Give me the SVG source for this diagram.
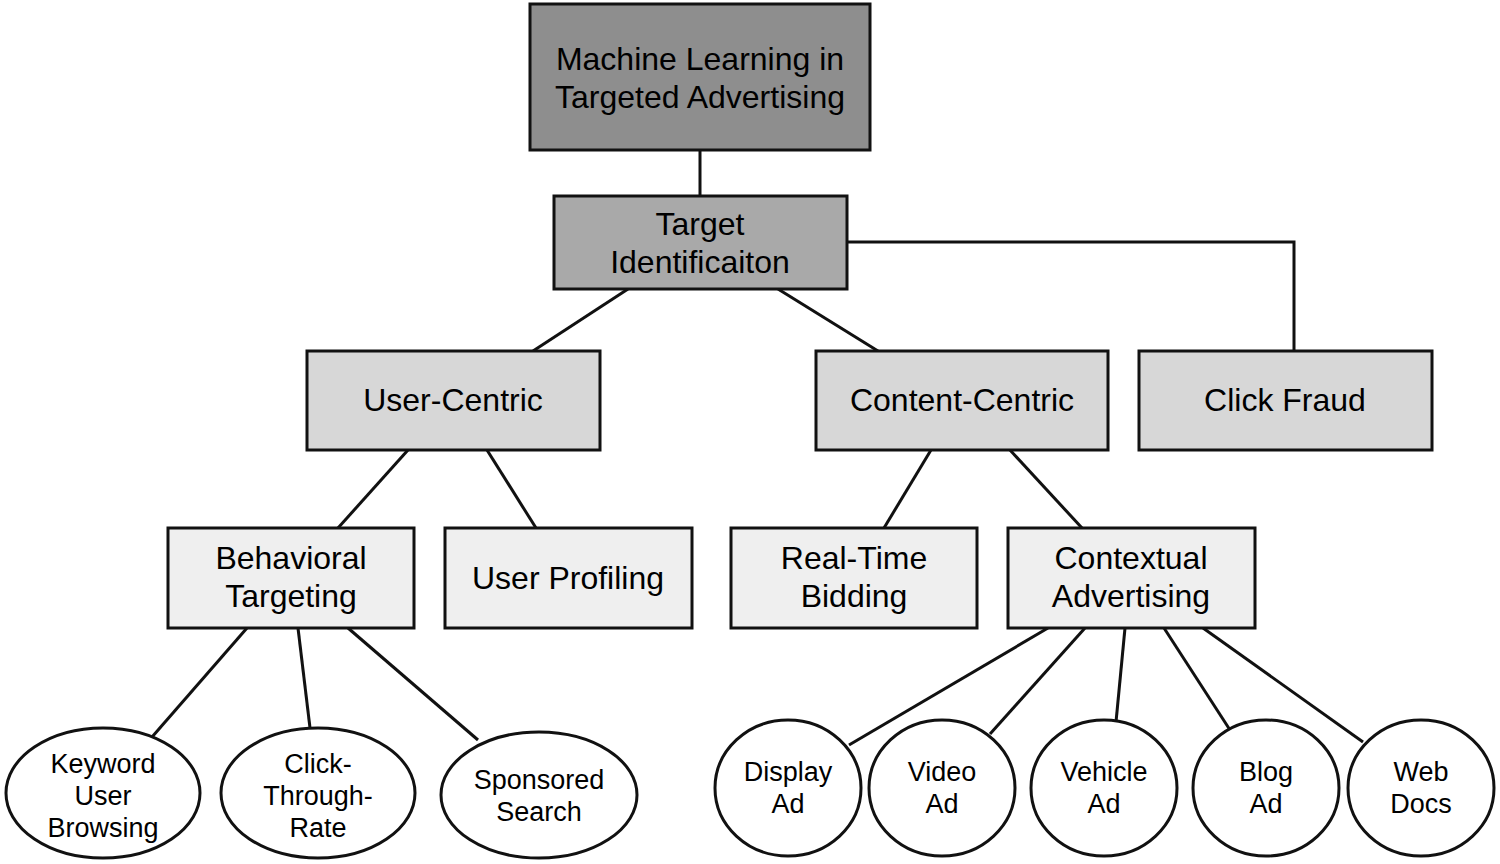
<svg xmlns="http://www.w3.org/2000/svg" width="1500" height="864" viewBox="0 0 1500 864">
<style>
.b{stroke:#111;stroke-width:3}
.l0{fill:#8e8e8e}.l1{fill:#a9a9a9}.l2{fill:#d7d7d7}.l3{fill:#efefef}.e{fill:#fff}
text{font-family:"Liberation Sans",Arial,sans-serif;fill:#000;text-anchor:middle}
.t{font-size:32px}.s{font-size:27px}
#connectors line,#connectors polyline{stroke:#111;stroke-width:3;fill:none}
</style>
<rect width="1500" height="864" fill="#fff"/>
<g id="connectors">
<line x1="700" y1="150" x2="700" y2="196"/>
<line x1="628" y1="289" x2="533" y2="351"/>
<line x1="778" y1="289" x2="878" y2="351"/>
<polyline points="847,242 1294,242 1294,351"/>
<line x1="408" y1="450" x2="338" y2="528"/>
<line x1="487" y1="450" x2="536" y2="528"/>
<line x1="931" y1="450" x2="884" y2="528"/>
<line x1="1010" y1="450" x2="1082" y2="528"/>
<line x1="247" y1="628" x2="152" y2="737"/>
<line x1="298" y1="628" x2="310" y2="728"/>
<line x1="348" y1="628" x2="478" y2="740"/>
<line x1="1048" y1="628" x2="849" y2="745"/>
<line x1="1085" y1="628" x2="990" y2="734"/>
<line x1="1125" y1="628" x2="1116" y2="722"/>
<line x1="1164" y1="628" x2="1230" y2="730"/>
<line x1="1203" y1="628" x2="1363" y2="742"/>
</g>
<g id="root"><rect class="b l0" x="530" y="4" width="340" height="146"/><text class="t" x="700" y="70">Machine Learning in</text><text class="t" x="700" y="108">Targeted Advertising</text></g>
<g id="target-identification"><rect class="b l1" x="554" y="196" width="293" height="93"/><text class="t" x="700" y="235">Target</text><text class="t" x="700" y="273">Identificaiton</text></g>
<g id="user-centric"><rect class="b l2" x="307" y="351" width="293" height="99"/><text class="t" x="453" y="411">User-Centric</text></g>
<g id="content-centric"><rect class="b l2" x="816" y="351" width="292" height="99"/><text class="t" x="962" y="411">Content-Centric</text></g>
<g id="click-fraud"><rect class="b l2" x="1139" y="351" width="293" height="99"/><text class="t" x="1285" y="411">Click Fraud</text></g>
<g id="behavioral-targeting"><rect class="b l3" x="168" y="528" width="246" height="100"/><text class="t" x="291" y="569">Behavioral</text><text class="t" x="291" y="607">Targeting</text></g>
<g id="user-profiling"><rect class="b l3" x="445" y="528" width="247" height="100"/><text class="t" x="568" y="589">User Profiling</text></g>
<g id="real-time-bidding"><rect class="b l3" x="731" y="528" width="246" height="100"/><text class="t" x="854" y="569">Real-Time</text><text class="t" x="854" y="607">Bidding</text></g>
<g id="contextual-advertising"><rect class="b l3" x="1008" y="528" width="247" height="100"/><text class="t" x="1131" y="569">Contextual</text><text class="t" x="1131" y="607">Advertising</text></g>
<g id="keyword-user-browsing"><ellipse class="b e" cx="103" cy="793" rx="97" ry="65"/><text class="s" x="103" y="773">Keyword</text><text class="s" x="103" y="805">User</text><text class="s" x="103" y="837">Browsing</text></g>
<g id="click-through-rate"><ellipse class="b e" cx="318" cy="793" rx="97" ry="65"/><text class="s" x="318" y="773">Click-</text><text class="s" x="318" y="805">Through-</text><text class="s" x="318" y="837">Rate</text></g>
<g id="sponsored-search"><ellipse class="b e" cx="539" cy="795" rx="98" ry="63"/><text class="s" x="539" y="789">Sponsored</text><text class="s" x="539" y="821">Search</text></g>
<g id="display-ad"><ellipse class="b e" cx="788" cy="788" rx="73" ry="68"/><text class="s" x="788" y="781">Display</text><text class="s" x="788" y="813">Ad</text></g>
<g id="video-ad"><ellipse class="b e" cx="942" cy="788" rx="73" ry="68"/><text class="s" x="942" y="781">Video</text><text class="s" x="942" y="813">Ad</text></g>
<g id="vehicle-ad"><ellipse class="b e" cx="1104" cy="788" rx="73" ry="68"/><text class="s" x="1104" y="781">Vehicle</text><text class="s" x="1104" y="813">Ad</text></g>
<g id="blog-ad"><ellipse class="b e" cx="1266" cy="788" rx="73" ry="68"/><text class="s" x="1266" y="781">Blog</text><text class="s" x="1266" y="813">Ad</text></g>
<g id="web-docs"><ellipse class="b e" cx="1421" cy="788" rx="73" ry="68"/><text class="s" x="1421" y="781">Web</text><text class="s" x="1421" y="813">Docs</text></g>
</svg>
